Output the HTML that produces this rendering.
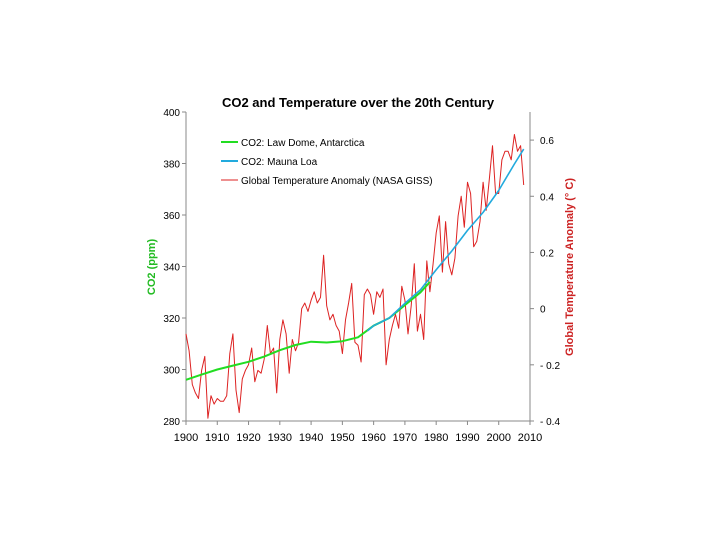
<!DOCTYPE html>
<html><head><meta charset="utf-8"><style>
body{margin:0;background:#fff;width:720px;height:540px;overflow:hidden}
svg text{font-family:"Liberation Sans",Arial,sans-serif}
</style></head><body>
<svg width="720" height="540">
<text x="358" y="107" text-anchor="middle" font-size="13" font-weight="bold">CO2 and Temperature over the 20th Century</text>
<g id="axes"></g>
<g id="series"></g>
<g font-size="10">
<line x1="221" y1="142" x2="238" y2="142" stroke="#22dd22" stroke-width="2"/>
<text x="241" y="146">CO2: Law Dome, Antarctica</text>
<line x1="221" y1="161" x2="238" y2="161" stroke="#22aadd" stroke-width="2"/>
<text x="241" y="165">CO2: Mauna Loa</text>
<line x1="221" y1="180" x2="238" y2="180" stroke="#dd2222" stroke-width="1"/>
<text x="241" y="184">Global Temperature Anomaly (NASA GISS)</text>
</g>
<text transform="translate(155,267) rotate(-90)" text-anchor="middle" font-size="11" font-weight="bold" fill="#22bb22">CO2 (ppm)</text>
<text transform="translate(573,267) rotate(-90)" text-anchor="middle" font-size="11" font-weight="bold" fill="#cc2222">Global Temperature Anomaly (° C)</text>
</svg>
<script>
const xTicks=[1900,1910,1920,1930,1940,1950,1960,1970,1980,1990,2000,2010];
const co2Ticks=[280,300,320,340,360,380,400];
const tempTicks=[-0.4,-0.2,0,0.2,0.4,0.6];
const lawYears=[1900,1905,1910,1915,1920,1925,1930,1935,1940,1945,1950,1955,1960,1965,1970,1975,1978];
const lawCO2=[296,298,300,301.5,303,305,307.5,309.5,310.8,310.5,311,312.5,317,320,325,330,334];
const mlYears=[1958,1960,1965,1970,1975,1980,1985,1990,1995,2000,2005,2008];
const mlCO2=[315,317,320,325.7,331,338.7,346,354,361,369.5,379.8,385.6];
const tempYears=[];for(let y=1900;y<=2008;y++)tempYears.push(y);
const tempVals=[-0.09,-0.15,-0.27,-0.30,-0.32,-0.22,-0.17,-0.39,-0.31,-0.34,
-0.32,-0.33,-0.33,-0.31,-0.16,-0.09,-0.29,-0.37,-0.25,-0.22,
-0.20,-0.14,-0.26,-0.22,-0.23,-0.18,-0.06,-0.16,-0.14,-0.30,
-0.11,-0.04,-0.09,-0.23,-0.11,-0.15,-0.12,0.00,0.02,-0.01,
0.03,0.06,0.02,0.04,0.19,0.01,-0.04,-0.02,-0.06,-0.08,
-0.16,-0.04,0.02,0.09,-0.12,-0.13,-0.19,0.05,0.07,0.05,
-0.02,0.06,0.04,0.07,-0.20,-0.11,-0.06,-0.02,-0.07,0.08,
0.03,-0.09,0.01,0.16,-0.08,-0.02,-0.11,0.17,0.06,0.16,
0.27,0.33,0.13,0.31,0.16,0.12,0.18,0.33,0.40,0.29,
0.45,0.41,0.22,0.24,0.31,0.45,0.35,0.46,0.58,0.41,
0.41,0.53,0.56,0.56,0.53,0.62,0.56,0.58,0.44];
const X0=186,X1=530,YT=112,YB=421;
const xs=v=>X0+(v-1900)/110*(X1-X0);
const yL=v=>YB-(v-280)/120*(YB-YT);
const yR=v=>YB-(v+0.4)/1.1*(YB-YT);
const NS="http://www.w3.org/2000/svg";
function mk(tag,attrs,parent,txt){const e=document.createElementNS(NS,tag);for(const k in attrs)e.setAttribute(k,attrs[k]);if(txt!==undefined)e.textContent=txt;parent.appendChild(e);return e;}
const ax=document.getElementById('axes');
let e;
e=mk('line',{x1:X0,y1:YT,x2:X0,y2:YB,stroke:'#888'},ax);


e=mk('line',{x1:X1,y1:YT,x2:X1,y2:YB,stroke:'#888'},ax);


e=mk('line',{x1:X0,y1:YB,x2:X1,y2:YB,stroke:'#888'},ax);


xTicks.forEach(t=>{const x=xs(t);mk('line',{x1:x,y1:YB,x2:x,y2:YB+4,stroke:'#888'},ax);
e=mk('text',{x:x,y:YB+20,'text-anchor':'middle','font-size':11},ax,t);

});
co2Ticks.forEach(t=>{const y=yL(t);mk('line',{x1:X0-4,y1:y,x2:X0,y2:y,stroke:'#888'},ax);
e=mk('text',{x:X0-6,y:y+4,'text-anchor':'end','font-size':10},ax,t);

});
tempTicks.forEach(t=>{const y=yR(t);mk('line',{x1:X1,y1:y,x2:X1+4,y2:y,stroke:'#888'},ax);
e=mk('text',{x:X1+10,y:y+4,'font-size':10},ax,(t===0?'0':t.toFixed(1)).replace('-','- '));

});
const sg=document.getElementById('series');
function line(xsA,ysA,fy,col,w,name){const pts=xsA.map((x,i)=>xs(x).toFixed(1)+','+fy(ysA[i]).toFixed(1)).join(' ');
const p=mk('polyline',{points:pts,fill:'none',stroke:col,'stroke-width':w,'stroke-linejoin':'round'},sg);

}
line(tempYears,tempVals,yR,'#dd2222',1,'temperature-line');
line(lawYears,lawCO2,yL,'#22dd22',2,'law-dome-co2-line');
line(mlYears,mlCO2,yL,'#22aadd',1.6,'mauna-loa-co2-line');
</script>
</body></html>
